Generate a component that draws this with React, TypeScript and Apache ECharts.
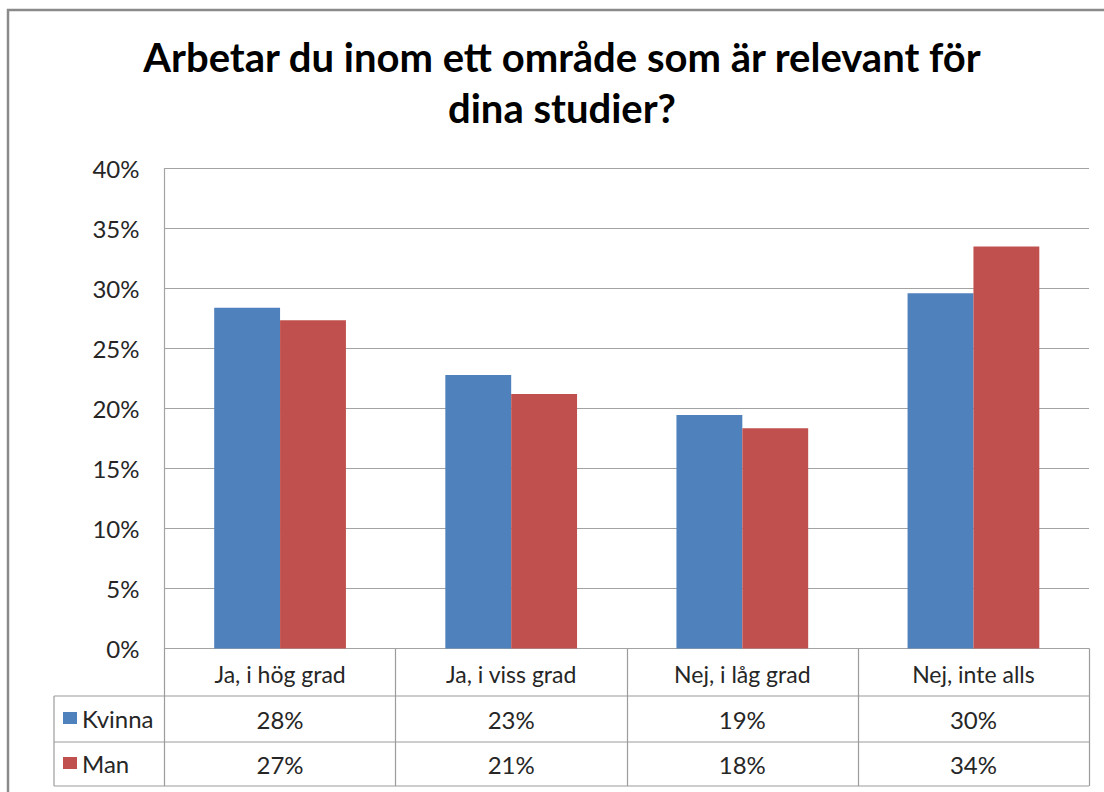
import React, { useEffect, useRef } from "react";
import * as echarts from "echarts";

const categories = ["Ja, i hög grad", "Ja, i viss grad", "Nej, i låg grad", "Nej, inte alls"];
const seriesNames = ["Kvinna", "Man"];
const kvinna = [28.4, 22.8, 19.45, 29.6];
const man = [27.35, 21.2, 18.35, 33.5];
const yMin = 0;
const yMax = 40;
const yStep = 5;

const FONT = "Lato";
const TEXT = "#262626";
const GRIDC = "#a3a3a3";
const TABLEC = "#9c9c9c";

const GL = 164.5;
const GT = 168.5;
const GR = 1089;
const GB = 648.5;
const ROW1 = 696;
const ROW2 = 742;
const ROW3 = 786;
const TBL_LEFT = 54;

const pct = (v: number) => `${Math.round(v)}%`;

export default function App() {
  const ref = useRef<HTMLDivElement>(null);
  useEffect(() => {
    if (!ref.current) return;
    const chart = echarts.init(ref.current, undefined, { renderer: "svg" });
    const valueAxis = (data: number[], margin: number) => ({
      type: "category",
      data: categories,
      position: "bottom",
      gridIndex: 0,
      axisLine: { show: false },
      axisTick: { show: false },
      splitLine: { show: false },
      axisLabel: {
        interval: 0,
        margin,
        verticalAlign: "middle",
        fontFamily: FONT,
        fontSize: 24,
        color: TEXT,
        formatter: (_v: string, i: number) => pct(data[i]),
      },
    });
    chart.setOption({
      animation: false,
      backgroundColor: "#ffffff",
      title: {
        text: "Arbetar du inom ett område som är relevant för\ndina studier?",
        left: 562,
        top: 31,
        padding: 0,
        textAlign: "center",
        textStyle: {
          fontFamily: FONT,
          fontWeight: "bold",
          fontSize: 40,
          lineHeight: 51,
          color: "#000000",
        },
      },
      legend: {
        data: seriesNames,
        orient: "vertical",
        left: 63,
        top: 706,
        padding: 0,
        itemGap: 21,
        itemWidth: 14,
        itemHeight: 12,
        icon: "rect",
        textStyle: { fontFamily: FONT, fontSize: 24, lineHeight: 24, color: TEXT },
      },
      grid: {
        left: GL,
        top: GT,
        width: GR - GL,
        height: GB - GT,
        containLabel: false,
      },
      xAxis: [
        {
          type: "category",
          data: categories,
          position: "bottom",
          axisLine: { show: true, lineStyle: { color: GRIDC, width: 1.2 } },
          axisTick: {
            show: true,
            length: ROW3 - GB,
            lineStyle: { color: TABLEC, width: 1.2 },
          },
          splitLine: { show: false },
          axisLabel: {
            interval: 0,
            margin: 25.5,
            verticalAlign: "middle",
            fontFamily: FONT,
            fontSize: 23,
            color: TEXT,
          },
        },
        valueAxis(kvinna, 71),
        valueAxis(man, 115.5),
      ],
      yAxis: {
        type: "value",
        min: yMin,
        max: yMax,
        interval: yStep,
        axisLine: { show: true, lineStyle: { color: GRIDC, width: 1.2 } },
        axisTick: { show: false },
        splitLine: { show: true, lineStyle: { color: GRIDC, width: 1.2 } },
        axisLabel: {
          margin: 25,
          fontFamily: FONT,
          fontSize: 24,
          color: TEXT,
          formatter: (v: number) => `${v}%`,
        },
      },
      series: [
        {
          name: seriesNames[0],
          type: "bar",
          data: kvinna,
          barGap: "0%",
          barCategoryGap: "43%",
          itemStyle: { color: "#4f81bd" },
        },
        {
          name: seriesNames[1],
          type: "bar",
          data: man,
          barGap: "0%",
          barCategoryGap: "43%",
          itemStyle: { color: "#c0504d" },
        },
      ],
      graphic: [
        {
          type: "rect",
          silent: true,
          shape: { x: 8, y: 10, width: 1300, height: 1000 },
          style: { fill: "none", stroke: "#8a8a8a", lineWidth: 2.5 },
        },
        ...[ROW1, ROW2, ROW3].map((y) => ({
          type: "line",
          silent: true,
          shape: { x1: TBL_LEFT, y1: y, x2: GR, y2: y },
          style: { stroke: TABLEC, lineWidth: 1.2 },
        })),
        {
          type: "line",
          silent: true,
          shape: { x1: TBL_LEFT, y1: ROW1, x2: TBL_LEFT, y2: ROW3 },
          style: { stroke: TABLEC, lineWidth: 1.2 },
        },
      ],
    });
    return () => chart.dispose();
  }, []);
  return (
    <div
      ref={ref}
      style={{ position: "absolute", left: 0, top: 0, width: 1104, height: 792 }}
    />
  );
}
